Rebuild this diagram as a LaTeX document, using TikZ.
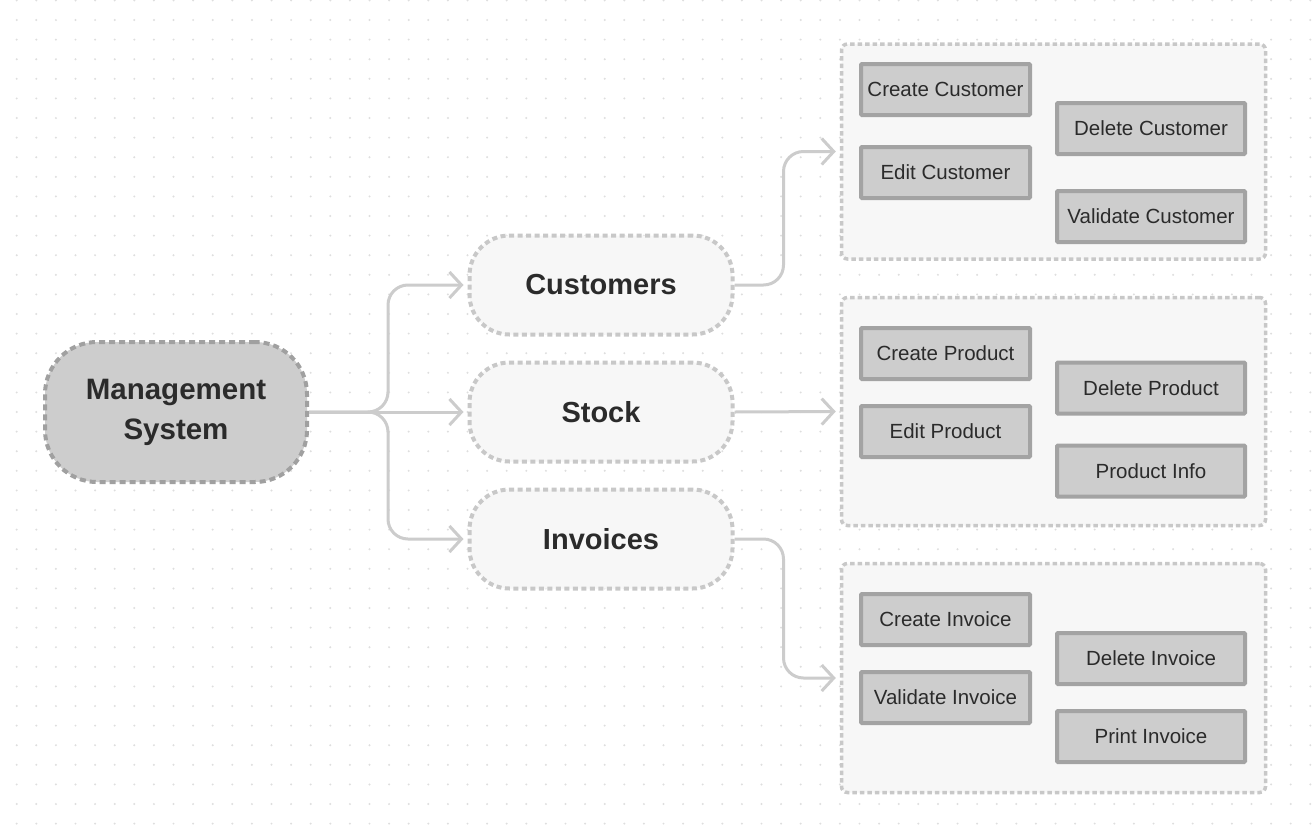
\documentclass[tikz,border=0pt]{standalone}
\usepackage{fontspec}
\setmainfont{Liberation Sans}
\usetikzlibrary{arrows.meta}
\definecolor{dotc}{HTML}{DEDEDE}
\definecolor{connc}{HTML}{CCCCCC}
\definecolor{msFill}{HTML}{CDCDCD}
\definecolor{msBorder}{HTML}{A0A0A0}
\definecolor{catFill}{HTML}{F7F7F7}
\definecolor{catBorder}{HTML}{C8C8C8}
\definecolor{grpBorder}{HTML}{C8C8C8}
\definecolor{leafFill}{HTML}{CDCDCD}
\definecolor{leafBorder}{HTML}{A3A3A3}
\definecolor{txt}{HTML}{2B2B2B}
\begin{document}
\begin{tikzpicture}[x=1pt,y=-1pt,
  mainnode/.style={draw=msBorder, fill=msFill, line width=4pt, dash pattern=on 6pt off 4pt,
    rounded corners=52pt, minimum width=262pt, minimum height=140pt, inner sep=0pt,
    font=\fontsize{29.5}{40}\selectfont\bfseries, text=txt, align=center},
  catnode/.style={draw=catBorder, fill=catFill, line width=4pt, dash pattern=on 5pt off 3.5pt,
    rounded corners=40pt, minimum width=263pt, minimum height=99pt, inner sep=0pt,
    font=\fontsize{29}{34}\selectfont\bfseries, text=txt},
  groupbox/.style={draw=grpBorder, fill=catFill, line width=3.5pt, dash pattern=on 4.5pt off 3pt,
    rounded corners=6pt, minimum width=424pt, inner sep=0pt},
  leaf/.style={draw=leafBorder, fill=leafFill, line width=4pt, rounded corners=1pt,
    minimum height=51pt, inner sep=0pt, font=\fontsize{20.5}{24}\selectfont, text=txt},
  leafL/.style={leaf, minimum width=169pt},
  leafR/.style={leaf, minimum width=188pt},
  conn/.style={draw=connc, line width=3pt, rounded corners=20pt,
    -{Straight Barb[length=12pt,width=26pt,line width=3pt]}, shorten >=4pt}
]
\useasboundingbox (0,0) rectangle (1314,830);
\fill[white] (0,0) rectangle (1314,830);
\foreach \i in {0,...,66}{
  \foreach \j in {0,...,42}{
    \fill[dotc] ({16.7+19.6*\i},{0.4+19.6*\j}) circle (1.1pt);
  }
}
% group boxes
\node[groupbox, minimum height=215pt] (g1) at (1053.5,151.5) {};
\node[groupbox, minimum height=228pt] (g2) at (1053.5,411.5) {};
\node[groupbox, minimum height=229pt] (g3) at (1053.5,678) {};
% leaves
\node[leafL] (cc) at (945.5,89.5) {Create Customer};
\node[leafL] (ec) at (945.5,172.5) {Edit Customer};
\node[leafR] (dc) at (1151,128.5) {Delete Customer};
\node[leafR] (vc) at (1151,216.5) {Validate Customer};
\node[leafL] (cp) at (945.5,353.5) {Create Product};
\node[leafL] (ep) at (945.5,431.5) {Edit Product};
\node[leafR] (dp) at (1151,388) {Delete Product};
\node[leafR] (pi) at (1151,471) {Product Info};
\node[leafL] (ci) at (945.5,619.5) {Create Invoice};
\node[leafL] (vi) at (945.5,697.5) {Validate Invoice};
\node[leafR] (di) at (1151,658.5) {Delete Invoice};
\node[leafR] (pri) at (1151,736.5) {Print Invoice};
% main nodes
\node[mainnode] (ms) at (176,412) {Management\\System};
\node[catnode] (cust) at (601,285) {Customers};
\node[catnode] (stock) at (601,412) {Stock};
\node[catnode] (inv) at (601,539) {Invoices};
% connectors
\coordinate (fork) at (388,412);
\draw[conn] (ms.east) -- (fork) |- (cust.west);
\draw[conn] (ms.east) -- (stock.west);
\draw[conn] (ms.east) -- (fork) |- (inv.west);
\draw[conn] (cust.east) -- ++(49,0) |- (g1.west);
\draw[conn] (stock.east) -- (g2.west);
\draw[conn] (inv.east) -- ++(49,0) |- (g3.west);
\end{tikzpicture}
\end{document}
